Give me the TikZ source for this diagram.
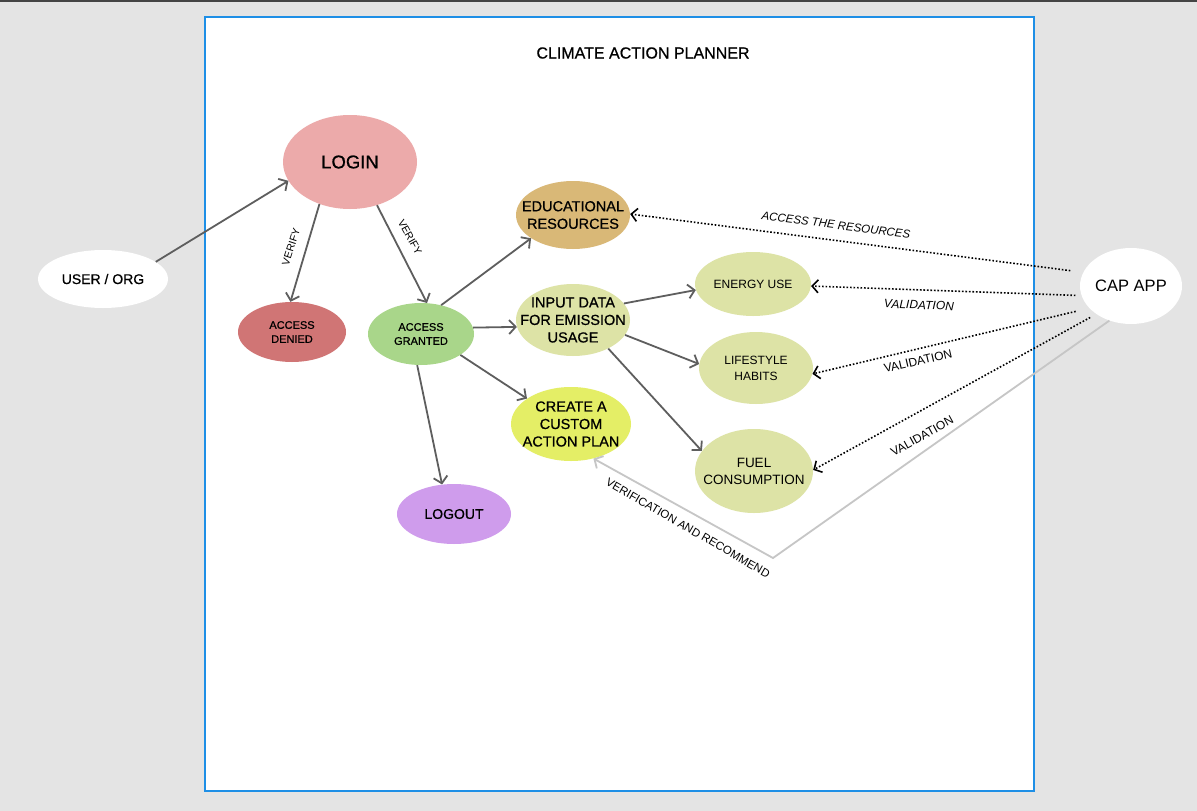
\documentclass[tikz,border=0pt]{standalone}
\usepackage{fontspec}
\setmainfont{Liberation Sans}
\newfontfamily\medfont{Liberation Sans}[FakeBold=0.7]
\usetikzlibrary{shapes.geometric,arrows.meta}
\newcommand{\myfs}[2]{\fontsize{#1}{#2}\selectfont}
\definecolor{bggray}{HTML}{E4E4E4}
\definecolor{topline}{HTML}{444444}
\definecolor{frameblue}{HTML}{1E8FE6}
\definecolor{arrowgray}{HTML}{5E5E5E}
\definecolor{lightgray}{HTML}{C6C6C6}
\definecolor{loginpink}{HTML}{ECAAAA}
\definecolor{deniedred}{HTML}{D07575}
\definecolor{grantedgreen}{HTML}{A9D68A}
\definecolor{edubrown}{HTML}{D9B877}
\definecolor{datagreen}{HTML}{DDE3A6}
\definecolor{createyellow}{HTML}{E4EE66}
\definecolor{logoutpurple}{HTML}{CF9CEC}
\begin{document}
\begin{tikzpicture}[x=1pt,y=-1pt,
  uc/.style={ellipse, inner sep=0pt, draw=none},
  ut/.style={align=center, inner sep=0pt, text=black},
  garrow/.style={draw=arrowgray, line width=1.8pt, -{Straight Barb[length=6.5pt,width=14pt]}},
  darrow/.style={draw=black, line width=1.6pt, dash pattern=on 1.6pt off 1.9pt, -{Straight Barb[length=6pt,width=13pt]}},
  larrow/.style={draw=lightgray, line width=1.8pt, -{Straight Barb[length=6.5pt,width=14pt]}},
  lbl/.style={inner sep=0pt, text=black}
]
\useasboundingbox (0,0) rectangle (1197,811);
\fill[bggray] (0,0) rectangle (1197,811);
\fill[topline] (0,0) rectangle (1197,1.5);
\draw[frameblue, fill=white, line width=2.5pt] (205,17) rectangle (1034,791);

\node[lbl, font=\medfont\myfs{16}{18}] (title) at (643,53) {CLIMATE ACTION PLANNER};

% nodes
\node[uc, fill=white, minimum width=130pt, minimum height=58pt,
  label={[ut, font=\medfont\myfs{14}{16}]center:{USER / ORG}}] (user) at (103,279) {};
\node[uc, fill=loginpink, minimum width=134pt, minimum height=94pt,
  label={[ut, font=\medfont\myfs{18.5}{20}]center:{LOGIN}}] (login) at (350,162) {};
\node[uc, fill=deniedred, minimum width=108pt, minimum height=60pt,
  label={[ut, font=\medfont\myfs{11}{14}]center:{ACCESS\\DENIED}}] (denied) at (292,332) {};
\node[uc, fill=grantedgreen, minimum width=106pt, minimum height=62pt,
  label={[ut, font=\medfont\myfs{11}{14}]center:{ACCESS\\GRANTED}}] (granted) at (421,334) {};
\node[uc, fill=edubrown, minimum width=114pt, minimum height=68pt,
  label={[ut, font=\medfont\myfs{14.5}{17.5}]center:{EDUCATIONAL\\RESOURCES}}] (edu) at (573,215) {};
\node[uc, fill=datagreen, minimum width=114pt, minimum height=72pt,
  label={[ut, font=\medfont\myfs{14.5}{17.5}]center:{INPUT DATA\\FOR EMISSION\\USAGE}}] (input) at (573,320) {};
\node[uc, fill=datagreen, minimum width=116pt, minimum height=64pt,
  label={[ut, font=\myfs{12}{15}]center:{ENERGY USE}}] (energy) at (753,284) {};
\node[uc, fill=datagreen, minimum width=114pt, minimum height=72pt,
  label={[ut, font=\myfs{12}{16}]center:{LIFESTYLE\\HABITS}}] (lifestyle) at (756,368) {};
\node[uc, fill=datagreen, minimum width=118pt, minimum height=84pt,
  label={[ut, font=\myfs{13.5}{17}]center:{FUEL\\CONSUMPTION}}] (fuel) at (754,471) {};
\node[uc, fill=createyellow, minimum width=120pt, minimum height=74pt,
  label={[ut, font=\medfont\myfs{14.5}{17.5}]center:{CREATE A\\CUSTOM\\ACTION PLAN}}] (create) at (571,424) {};
\node[uc, fill=logoutpurple, minimum width=114pt, minimum height=60pt,
  label={[ut, font=\medfont\myfs{14}{16}]center:{LOGOUT}}] (logout) at (454,514) {};
\node[uc, fill=white, minimum width=102pt, minimum height=76pt,
  label={[ut, font=\myfs{16.5}{18}]center:{CAP APP}}] (cap) at (1131,286) {};

\coordinate (bend) at (773,558);

% solid arrows
\draw[garrow] (user.18) -- (login.197);
\draw[garrow] (login.234) -- (denied.93);
\draw[garrow] (login.302) -- (granted.79);
\draw[garrow] (granted.55) -- (edu.209);
\draw[garrow] (granted.7) -- (input.187);
\draw[garrow] (granted.332) -- (create.150);
\draw[garrow] (granted.263) -- (logout.112);
\draw[garrow] (input.18) -- (energy.186);
\draw[garrow] (input.344) -- (lifestyle.176);
\draw[garrow] (input.321) -- (fuel.159);

% dotted arrows from CAP APP
\draw[darrow, shorten <=13pt] (cap.164) -- (edu.1);
\draw[darrow, shorten <=6pt] (cap.191) -- (energy.358);
\draw[darrow, shorten <=14pt] (cap.208) -- (lifestyle.354);
\draw[darrow, shorten <=7pt] (cap.219) -- (fuel.1);

% light gray feedback arrow
\draw[larrow] (cap.238) -- (bend) -- (create.303);

% labels
\node[lbl, font=\myfs{10.5}{12}, rotate=72] (v1) at (291,247) {VERIFY};
\node[lbl, font=\myfs{10.5}{12}, rotate=-61] (v2) at (410,237) {VERIFY};
\node[lbl, font=\myfs{11.5}{13}\itshape, rotate=-7] (l1) at (836,225) {ACCESS THE RESOURCES};
\node[lbl, font=\myfs{12}{13}\itshape, rotate=-2] (l2) at (919,305) {VALIDATION};
\node[lbl, font=\myfs{12}{13}, rotate=13] (l3) at (918,361) {VALIDATION};
\node[lbl, font=\myfs{12}{13}, rotate=29] (l4) at (922,436) {VALIDATION};
\node[lbl, font=\myfs{11.5}{13}, rotate=-30] (l5) at (688,528) {VERIFICATION AND RECOMMEND};
\end{tikzpicture}
\end{document}
